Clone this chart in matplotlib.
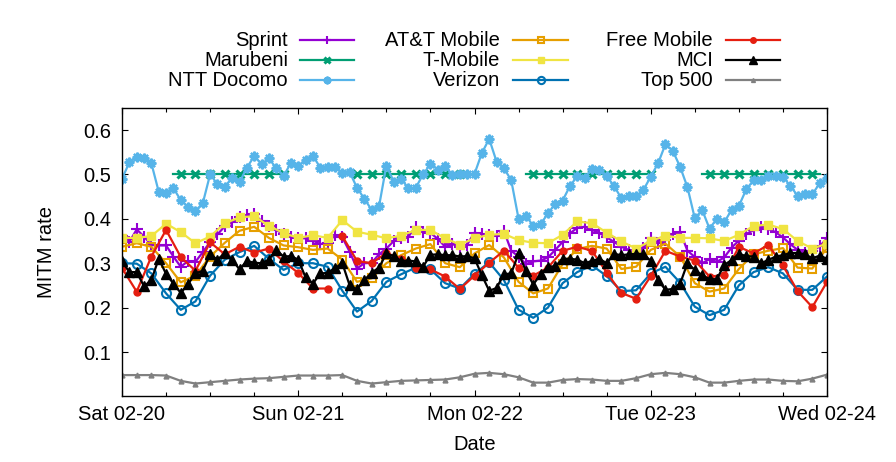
import numpy as np
import matplotlib
matplotlib.use("Agg")
from matplotlib import pyplot as plt
from matplotlib.lines import Line2D
from matplotlib.ticker import MultipleLocator

plt.rcParams['font.family'] = ['Liberation Sans', 'DejaVu Sans']
FS = 14.5

# x axis: hours since Sat 02-20 00:00
hours_1h = np.arange(0, 97)
hours_2h = np.arange(0, 97, 2)
day_ticks = [0, 24, 48, 72, 96]
day_labels = ['Sat 02-20', 'Sun 02-21', 'Mon 02-22', 'Tue 02-23', 'Wed 02-24']
y_ticks = [0.1, 0.2, 0.3, 0.4, 0.5, 0.6]

# hourly series
sprint = [0.362, 0.348, 0.376, 0.360, 0.341, 0.340, 0.340, 0.315, 0.292, 0.305, 0.303, 0.325,
          0.348, 0.365, 0.383, 0.392, 0.403, 0.408, 0.410, 0.395, 0.384, 0.375, 0.365, 0.360,
          0.357,
          0.356, 0.351, 0.343, 0.346, 0.363, 0.358, 0.326, 0.288, 0.300, 0.301, 0.320, 0.333,
          0.350, 0.356, 0.360, 0.382, 0.371, 0.368, 0.355, 0.337, 0.343, 0.337, 0.342, 0.369,
          0.365, 0.364, 0.362, 0.373, 0.328, 0.315, 0.298, 0.304, 0.306, 0.313, 0.330, 0.348,
          0.367, 0.380, 0.382, 0.375, 0.368, 0.358, 0.348, 0.337, 0.330, 0.328, 0.334, 0.357,
          0.346, 0.352, 0.365, 0.371, 0.328, 0.314, 0.300, 0.309, 0.303, 0.313, 0.335, 0.351,
          0.366, 0.374, 0.381, 0.377, 0.370, 0.358, 0.343, 0.330, 0.323, 0.327, 0.338, 0.356]

nan = np.nan
marubeni = [nan] * 7 + [0.5] * 16 + [nan] * 8 + [0.5] * 16 + [nan] * 8 + [0.5] * 18 \
    + [nan] * 6 + [0.5] * 17 + [nan]

ntt_docomo = [0.490, 0.527, 0.540, 0.536, 0.525, 0.461, 0.459, 0.469, 0.442, 0.426, 0.418, 0.435,
              0.500, 0.478, 0.472, 0.493, 0.482, 0.515, 0.541, 0.523, 0.536, 0.514, 0.496, 0.526,
              0.520,
              0.532, 0.542, 0.515, 0.517, 0.517, 0.504, 0.505, 0.470, 0.445, 0.420, 0.428, 0.520,
              0.484, 0.490, 0.469, 0.470, 0.500, 0.523, 0.511, 0.520, 0.498, 0.500, 0.500, 0.501,
              0.548, 0.580, 0.529, 0.514, 0.487, 0.400, 0.407, 0.384, 0.388, 0.412, 0.434, 0.441,
              0.474, 0.496, 0.493, 0.512, 0.510, 0.496, 0.474, 0.446, 0.451, 0.451, 0.465, 0.495,
              0.525, 0.568, 0.553, 0.517, 0.471, 0.401, 0.420, 0.378, 0.400, 0.392, 0.420, 0.429,
              0.466, 0.487, 0.487, 0.496, 0.496, 0.495, 0.474, 0.452, 0.456, 0.455, 0.480, 0.492]

mci = [0.305, 0.280, 0.280, 0.248, 0.262, 0.310, 0.276, 0.254, 0.233, 0.253, 0.277, 0.283,
       0.320, 0.308, 0.323, 0.308, 0.286, 0.305, 0.301, 0.300, 0.308, 0.330, 0.315, 0.316,
       0.308,
       0.268, 0.254, 0.277, 0.278, 0.289, 0.300, 0.250, 0.241, 0.262, 0.279, 0.290, 0.322,
       0.316, 0.305, 0.306, 0.304, 0.292, 0.319, 0.320, 0.318, 0.318, 0.315, 0.316, 0.311,
       0.273, 0.238, 0.244, 0.275, 0.277, 0.322, 0.283, 0.252, 0.275, 0.292, 0.293, 0.310,
       0.310, 0.308, 0.300, 0.305, 0.310, 0.300, 0.321, 0.318, 0.320, 0.321, 0.321, 0.305,
       0.262, 0.240, 0.242, 0.254, 0.300, 0.285, 0.273, 0.264, 0.264, 0.296, 0.307, 0.321,
       0.316, 0.315, 0.300, 0.307, 0.315, 0.318, 0.323, 0.323, 0.320, 0.311, 0.317, 0.310]

# two-hourly series
att_mobile = [0.337, 0.345, 0.337, 0.300, 0.257, 0.272, 0.315, 0.346, 0.373, 0.382,
              0.357, 0.340, 0.336, 0.330, 0.333, 0.308, 0.258, 0.266, 0.300, 0.318,
              0.333, 0.343, 0.300, 0.291, 0.322, 0.341, 0.313, 0.258, 0.232, 0.243,
              0.298, 0.332, 0.339, 0.333, 0.287, 0.292, 0.330, 0.344, 0.315, 0.255,
              0.236, 0.243, 0.287, 0.320, 0.328, 0.334, 0.290, 0.288, 0.335]

t_mobile = [0.357, 0.357, 0.361, 0.389, 0.370, 0.345, 0.360, 0.390, 0.403, 0.406,
            0.384, 0.368, 0.357, 0.363, 0.357, 0.397, 0.371, 0.364, 0.356, 0.362,
            0.375, 0.375, 0.356, 0.342, 0.356, 0.364, 0.366, 0.352, 0.346, 0.345,
            0.364, 0.394, 0.390, 0.369, 0.349, 0.333, 0.350, 0.362, 0.357, 0.357,
            0.356, 0.350, 0.364, 0.384, 0.387, 0.377, 0.350, 0.333, 0.344]

verizon = [0.300, 0.299, 0.277, 0.232, 0.195, 0.214, 0.272, 0.308, 0.325, 0.339,
           0.310, 0.285, 0.300, 0.300, 0.292, 0.238, 0.191, 0.215, 0.258, 0.275,
           0.290, 0.286, 0.255, 0.243, 0.276, 0.302, 0.262, 0.195, 0.177, 0.200,
           0.255, 0.280, 0.295, 0.271, 0.237, 0.239, 0.277, 0.292, 0.256, 0.202,
           0.183, 0.195, 0.250, 0.280, 0.291, 0.277, 0.240, 0.240, 0.270]

free_mobile = [0.289, 0.236, 0.315, 0.375, 0.314, 0.283, 0.347, 0.320, 0.337, 0.324,
               0.333, 0.304, 0.278, 0.243, 0.243, 0.361, 0.305, 0.300, 0.323, 0.310,
               0.290, 0.286, 0.270, 0.242, 0.272, 0.301, 0.328, 0.290, 0.272, 0.290,
               0.328, 0.337, 0.328, 0.279, 0.233, 0.220, 0.271, 0.328, 0.315, 0.306,
               0.270, 0.273, 0.337, 0.322, 0.341, 0.295, 0.237, 0.201, 0.258]
free_gap_hour = 29  # no data between 28h and 30h

top500 = [0.048, 0.048, 0.048, 0.047, 0.035, 0.029, 0.032, 0.035, 0.038, 0.040,
          0.041, 0.044, 0.047, 0.047, 0.047, 0.048, 0.035, 0.029, 0.032, 0.035,
          0.036, 0.037, 0.038, 0.043, 0.051, 0.053, 0.050, 0.043, 0.031, 0.031,
          0.037, 0.039, 0.038, 0.035, 0.035, 0.041, 0.050, 0.053, 0.050, 0.043,
          0.031, 0.031, 0.035, 0.038, 0.038, 0.035, 0.034, 0.040, 0.049]

# free mobile gets a break in its line
gap_idx = int(np.searchsorted(hours_2h, free_gap_hour))
free_x = np.insert(hours_2h.astype(float), gap_idx, free_gap_hour)
free_y = np.insert(np.array(free_mobile), gap_idx, np.nan)

asterisk = (8, 2, 0)
series = [
    # label, x, y, color, marker, size, face, edge width, markevery
    ('Sprint', hours_1h, sprint, '#9400d3', '+', 8, None, 1.5, None),
    ('Marubeni', hours_1h, marubeni, '#009e73', 'x', 6, None, 2.2, 2),
    ('NTT Docomo', hours_1h, ntt_docomo, '#56b4e9', asterisk, 7, None, 1.6, None),
    ('AT&T Mobile', hours_2h, att_mobile, '#e69f00', 's', 6, 'none', 1.5, None),
    ('T-Mobile', hours_2h, t_mobile, '#f0e442', 's', 6, None, 1.0, None),
    ('Verizon', hours_2h, verizon, '#0072b2', 'o', 6.5, 'none', 1.5, None),
    ('Free Mobile', free_x, free_y, '#e51e10', 'o', 5, None, 1.0, None),
    ('MCI', hours_1h, mci, 'black', '^', 7.5, None, 1.0, None),
    ('Top 500', hours_2h, top500, '#808080', '^', 3.5, None, 1.0, None),
]

fig = plt.figure(figsize=(8.96, 4.62), dpi=100)
ax = fig.add_axes([122 / 896, 1 - 396.4 / 462, 705 / 896, 0.65 * 444 / 462])

for label, x, y, color, marker, ms, mfc, mew, every in series:
    ax.plot(x, y, color=color, lw=1.6, marker=marker, ms=ms,
            mfc=color if mfc is None else mfc, mec=color, mew=mew,
            markevery=every, label=label)

ax.set_xlim(0, 96)
ax.set_ylim(0, 0.65)
ax.set_xticks(day_ticks)
ax.set_xticklabels(day_labels)
ax.xaxis.set_minor_locator(MultipleLocator(6))
ax.set_yticks(y_ticks)
ax.set_yticklabels([f'{v:.1f}' for v in y_ticks])
ax.tick_params(which='both', direction='in', top=True, right=True, width=0.8,
               labelsize=FS, colors='black')
ax.tick_params(axis='y', which='major', length=4.5, pad=8)
ax.tick_params(axis='x', which='major', length=4.5, pad=6)
ax.tick_params(axis='x', which='minor', length=3)
for sp in ax.spines.values():
    sp.set_linewidth(1.0)

fig.text(46 / 896, 1 - 252 / 462, 'MITM rate', rotation=90, ha='center', va='center', fontsize=FS)
fig.text(474.5 / 896, 1 - 444 / 462, 'Date', ha='center', va='center', fontsize=FS)

# gnuplot style key: text right-aligned, sample to its right, three columns
col_text_x = [288, 500, 713]
col_line_x = [(300, 354), (513, 568), (726, 780)]
row_y = [40, 60, 80]
for i, (label, x, y, color, marker, ms, mfc, mew, every) in enumerate(series):
    c, r = divmod(i, 3)
    yy = 1 - row_y[r] / 462
    fig.text(col_text_x[c] / 896, yy, label, ha='right', va='center', fontsize=FS)
    x0, x1 = col_line_x[c]
    fig.add_artist(Line2D([x0 / 896, x1 / 896], [yy, yy], color=color, lw=1.6,
                          transform=fig.transFigure))
    fig.add_artist(Line2D([(x0 + x1) / 2 / 896], [yy], color=color, lw=0,
                          marker=marker, ms=ms * 0.8, mec=color, mew=mew,
                          mfc=color if mfc is None else mfc,
                          transform=fig.transFigure))

fig.savefig('out.png', dpi=100)
